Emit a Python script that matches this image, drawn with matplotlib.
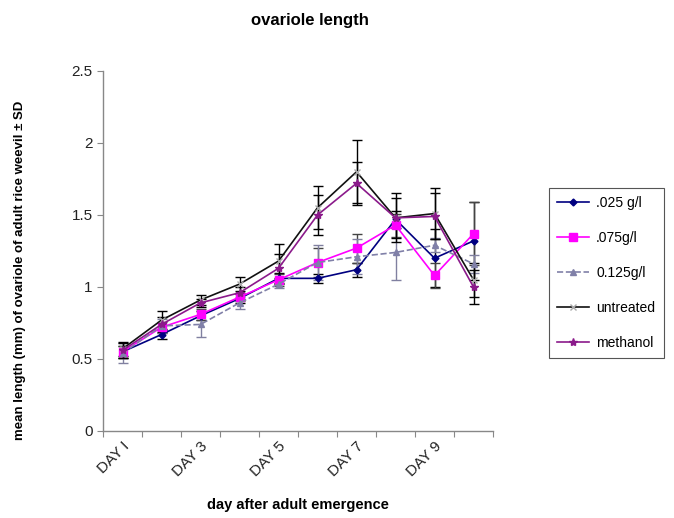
import matplotlib
matplotlib.use("Agg")
import matplotlib.pyplot as plt
import numpy as np

plt.rcParams["font.family"] = ["Liberation Sans", "DejaVu Sans"]

# Data
days = ["DAY I", "DAY 2", "DAY 3", "DAY 4", "DAY 5",
        "DAY 6", "DAY 7", "DAY 8", "DAY 9", "DAY 10"]
series_names = [".025 g/l", ".075g/l", "0.125g/l", "untreated", "methanol"]

c025 = [0.55, 0.67, 0.80, 0.92, 1.06, 1.06, 1.12, 1.47, 1.20, 1.32]
c075 = [0.55, 0.72, 0.81, 0.93, 1.05, 1.17, 1.27, 1.43, 1.08, 1.37]
c125 = [0.54, 0.73, 0.74, 0.89, 1.02, 1.17, 1.21, 1.24, 1.29, 1.16]
untreated = [0.57, 0.77, 0.91, 1.02, 1.18, 1.55, 1.80, 1.48, 1.51, 1.05]
methanol = [0.56, 0.74, 0.89, 0.96, 1.13, 1.50, 1.72, 1.48, 1.49, 1.00]

sd025 = [0.04, 0.03, 0.03, 0.03, 0.04, 0.03, 0.05, 0.06, 0.20, 0.27]
sd075 = [0.04, 0.04, 0.04, 0.03, 0.04, 0.10, 0.10, 0.08, 0.09, 0.22]
sd125 = [0.07, 0.05, 0.09, 0.04, 0.03, 0.12, 0.12, 0.19, 0.05, 0.06]
sd_untreated = [0.05, 0.06, 0.035, 0.05, 0.12, 0.15, 0.22, 0.17, 0.18, 0.12]
sd_methanol = [0.05, 0.05, 0.03, 0.04, 0.10, 0.14, 0.15, 0.14, 0.16, 0.12]

fig = plt.figure(figsize=(6.74, 5.18), dpi=100)
ax = fig.add_axes([103 / 674, 87 / 518, 390 / 674, 360 / 518])

x = np.arange(len(days))

styles = [
    (c025, sd025, dict(color="#000080", marker="D", markersize=3.5, linestyle="-"), "black"),
    (c075, sd075, dict(color="#FF00FF", marker="s", markersize=6, linestyle="-"), "#444444"),
    (c125, sd125, dict(color="#8080A8", marker="^", markersize=5, linestyle="--"), "#8080A0"),
    (untreated, sd_untreated, dict(color="#111111", marker="x", markersize=4,
                                   markeredgecolor="#AAAAAA", linestyle="-"), "black"),
    (methanol, sd_methanol, dict(color="#8B1A8B", marker="*", markersize=6, linestyle="-"), "black"),
]

handles = []
for (vals, sd, st, ecol), name in zip(styles, series_names):
    cont = ax.errorbar(x, vals, yerr=sd, ecolor=ecol, elinewidth=1.0, capsize=3.5,
                       capthick=1.0, linewidth=1.2, label=name, **st)
    handles.append(cont.lines[0])

ax.set_xlim(-0.5, len(days) - 0.5)
ax.set_ylim(0, 2.5)
ax.set_yticks([0, 0.5, 1, 1.5, 2, 2.5])
ax.set_yticklabels(["0", "0.5", "1", "1.5", "2", "2.5"], fontsize=11, color="#222222")

# Excel-style category axis: tick marks between categories, labels at centres
ax.set_xticks(np.arange(-0.5, len(days), 1.0))
ax.set_xticklabels([])
ax.set_xticks(x, minor=True)
ax.set_xticklabels([d if i % 2 == 0 else "" for i, d in enumerate(days)],
                   minor=True, rotation=45, ha="right", rotation_mode="anchor",
                   fontsize=11, color="#222222")
ax.tick_params(axis="x", which="minor", length=0, pad=6)
ax.tick_params(axis="x", which="major", length=4, color="#888888", direction="out")
ax.tick_params(axis="y", length=4, color="#888888", direction="out")

for s in ["top", "right"]:
    ax.spines[s].set_visible(False)
for s in ["left", "bottom"]:
    ax.spines[s].set_color("#888888")
    ax.spines[s].set_linewidth(1.0)

fig.text(310 / 674, 1 - 20 / 518, "ovariole length", ha="center", va="center",
         fontsize=12, fontweight="bold")
fig.text(20 / 674, 1 - 270 / 518, "mean length (mm) of ovariole of adult rice weevil \u00b1 SD",
         rotation=90, ha="center", va="center", fontsize=9.5, fontweight="bold")
fig.text(298 / 674, 1 - 505 / 518, "day after adult emergence", ha="center", va="center",
         fontsize=10.5, fontweight="bold")

leg = ax.legend(handles, series_names, loc="upper left",
                bbox_to_anchor=(549 / 674, 1 - 188 / 518),
                bbox_transform=fig.transFigure, fontsize=10, labelspacing=1.5,
                handlelength=2.3, handletextpad=0.5, borderpad=0.6, borderaxespad=0,
                fancybox=False, framealpha=1, edgecolor="#555555")
leg.get_frame().set_linewidth(0.8)

fig.savefig("out.png", dpi=100)
